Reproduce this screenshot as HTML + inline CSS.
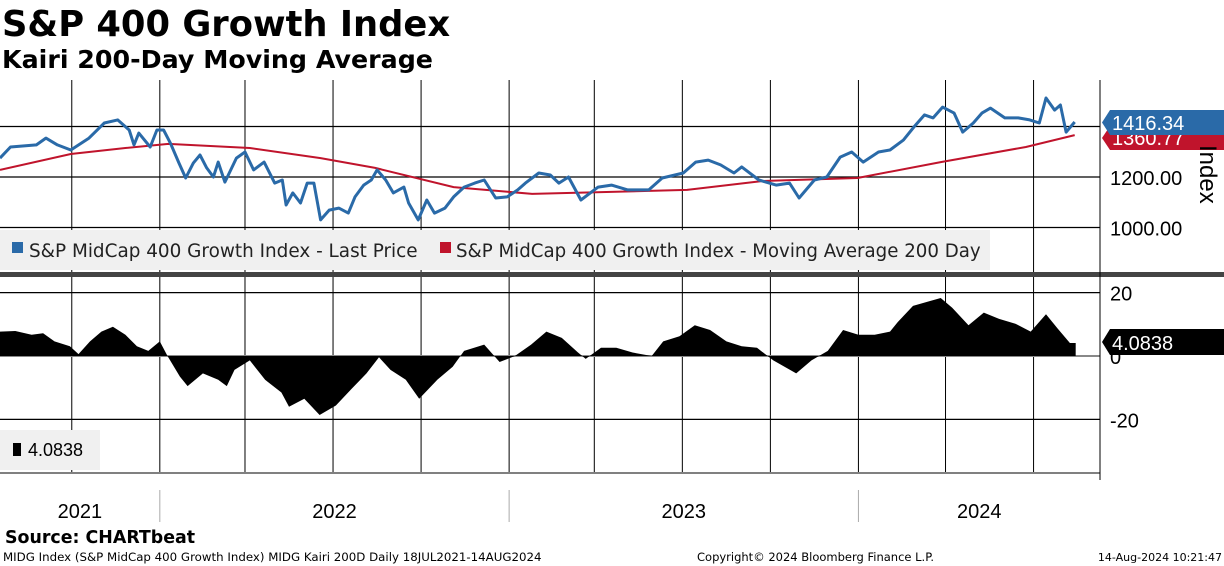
<!DOCTYPE html>
<html><head><meta charset="utf-8"><style>
html,body{margin:0;padding:0;background:#fff;width:1224px;height:566px;overflow:hidden}
svg{display:block}
</style></head><body>
<svg id="c" width="1224" height="566" xmlns="http://www.w3.org/2000/svg">
<text x="2" y="36" font-family="DejaVu Sans, sans-serif" font-weight="bold" font-size="35.3">S&amp;P 400 Growth Index</text>
<text x="2" y="68" font-family="DejaVu Sans, sans-serif" font-weight="bold" font-size="25.3">Kairi 200-Day Moving Average</text>
<g id="grid"></g>
<rect x="0" y="230" width="990" height="40" fill="#f0f0f0"/>
<rect x="12" y="242" width="11" height="11" fill="#2a6aa8"/>
<text x="29" y="257" font-family="DejaVu Sans, sans-serif" font-size="18.4" fill="#222">S&amp;P MidCap 400 Growth Index - Last Price</text>
<rect x="440" y="242" width="11" height="11" fill="#c0142c"/>
<text x="456" y="257" font-family="DejaVu Sans, sans-serif" font-size="18.2" fill="#222">S&amp;P MidCap 400 Growth Index - Moving Average 200 Day</text>
<rect x="0" y="272" width="1224" height="5" fill="#444"/>
<rect x="0" y="430" width="100" height="40" fill="#f0f0f0"/>
<rect x="13" y="443" width="8" height="13" fill="#000"/>
<text x="28" y="456" font-family="Liberation Sans, sans-serif" font-size="18">4.0838</text>
<g id="marks"></g>
<g id="axes"></g>
<text x="5" y="543" font-family="DejaVu Sans, sans-serif" font-weight="bold" font-size="17.4">Source: CHARTbeat</text>
<text x="3" y="561" font-family="DejaVu Sans, sans-serif" font-size="11.8">MIDG Index (S&amp;P MidCap 400 Growth Index) MIDG Kairi 200D  Daily 18JUL2021-14AUG2024</text>
<text x="697" y="561" font-family="DejaVu Sans, sans-serif" font-size="11.5">Copyright© 2024 Bloomberg Finance L.P.</text>
<text x="1222" y="561" text-anchor="end" font-family="DejaVu Sans, sans-serif" font-size="11">14-Aug-2024 10:21:47</text>
</svg>
<script>
// days since 2021-07-18
const priceDays=[0,11,38,48,60,74,93,109,123,135,140,145,157,164,171,178,187,194,202,209,216,223,228,235,247,256,265,276,287,295,299,306,314,321,328,335,344,354,364,371,380,388,394,403,411,422,427,437,446,454,465,474,485,496,506,518,530,541,549,563,575,584,594,607,625,639,656,678,692,714,727,740,753,767,775,793,811,825,835,851,864,878,890,902,918,930,944,955,966,975,985,997,1006,1017,1026,1035,1050,1064,1076,1086,1093,1102,1108,1114,1123];
const priceValues=[1275,1319,1327,1354,1327,1307,1354,1414,1426,1386,1327,1374,1319,1386,1386,1335,1255,1196,1255,1287,1236,1200,1259,1180,1275,1299,1228,1259,1176,1188,1089,1137,1097,1176,1176,1030,1069,1077,1057,1121,1168,1188,1228,1188,1137,1160,1097,1030,1109,1057,1077,1121,1160,1176,1188,1117,1121,1149,1176,1216,1208,1176,1200,1109,1160,1168,1149,1149,1196,1216,1259,1267,1248,1216,1240,1188,1168,1176,1117,1188,1200,1279,1299,1259,1299,1307,1346,1398,1446,1434,1477,1453,1378,1414,1453,1473,1434,1434,1426,1414,1513,1465,1485,1378,1418];
const maDays=[0,74,131,176,261,335,392,474,556,718,797,896,983,1072,1123];
const maValues=[1228,1291,1315,1331,1315,1275,1236,1160,1133,1149,1184,1196,1259,1319,1366];
const kairiDays=[0,16,33,45,57,73,82,94,106,118,131,143,155,167,175,188,196,212,228,237,245,261,277,294,302,318,334,351,367,383,396,408,424,438,457,473,485,506,522,538,555,571,587,604,612,628,644,661,681,693,710,726,742,759,775,791,808,832,848,865,881,897,914,930,938,954,971,983,995,1012,1028,1044,1061,1077,1093,1105,1118,1124];
const kairiValues=[7.7,7.9,6.7,7.2,4.6,3.1,0.6,4.6,7.7,9.2,6.7,3.1,1.6,4.6,0,-6.5,-9.5,-5.5,-7.5,-9.5,-4.4,-1.4,-7.5,-11.5,-16,-13.5,-18.6,-15.6,-10.5,-5.5,-0.4,-4.4,-7.5,-13.5,-7.5,-3.4,1.6,3.6,-1.9,0,3.6,7.7,5.7,1.1,-0.9,2.6,2.6,1.1,0,4.6,6.2,9.7,8.2,4.6,3.1,2.6,-1.4,-5.5,-1.4,1.6,8.2,6.7,6.7,7.7,10.7,15.8,17.3,18.3,15.2,9.7,13.7,11.7,10.2,7.7,13.2,8.7,4.1,4.1];
const quarterDays=[75,167,256,348,440,532,621,713,805,897,988,1080];
const yearSepDays=[167,532,897];
const yearLabels=["2021","2022","2023","2024"];
const priceTicks=[1000,1200,1400];
const kairiTicks=[-20,0,20];
const lastPrice="1416.34", lastMA="1360.77", lastKairi="4.0838";

const NS="http://www.w3.org/2000/svg";
const X=d=>d*0.957;
const YP=p=>177-(p-1200)*0.2525;
const YK=k=>356-k*3.17;
function mk(tag,attrs,parent){const e=document.createElementNS(NS,tag);for(const k in attrs)e.setAttribute(k,attrs[k]);parent.appendChild(e);return e;}
const grid=document.getElementById('grid'),marks=document.getElementById('marks'),axes=document.getElementById('axes');

quarterDays.forEach(d=>{
  const l=mk('line',{x1:X(d),x2:X(d),y1:80,y2:472,stroke:'#000','stroke-width':1},grid);
  
  
});
priceTicks.forEach(p=>{
  const l=mk('line',{x1:0,x2:1100,y1:YP(p),y2:YP(p),stroke:'#000','stroke-width':1.3},grid);
  
  
});
kairiTicks.forEach(k=>{
  const l=mk('line',{x1:0,x2:1100,y1:YK(k),y2:YK(k),stroke:k===0?'#888':'#000','stroke-width':k===0?2:1.3},grid);
  
  
});

let kp='M'+X(kairiDays[0])+','+YK(0);
kairiDays.forEach((d,i)=>{kp+=' L'+X(d).toFixed(1)+','+YK(kairiValues[i]).toFixed(1);});
kp+=' L'+X(kairiDays[kairiDays.length-1])+','+YK(0)+' Z';
const ka=mk('path',{d:kp,fill:'#000'},marks);



const ma=mk('polyline',{points:maDays.map((d,i)=>X(d).toFixed(1)+','+YP(maValues[i]).toFixed(1)).join(' '),fill:'none',stroke:'#c0142c','stroke-width':2},marks);


const pl=mk('polyline',{points:priceDays.map((d,i)=>X(d).toFixed(1)+','+YP(priceValues[i]).toFixed(1)).join(' '),fill:'none',stroke:'#2a6aa8','stroke-width':3,'stroke-linejoin':'round'},marks);



const ax=mk('line',{x1:1100,x2:1100,y1:80,y2:480,stroke:'#000','stroke-width':1},axes);


const bx=mk('line',{x1:0,x2:1100,y1:473,y2:473,stroke:'#000','stroke-width':1},axes);


priceTicks.forEach(p=>{
  const t=mk('text',{x:1110,y:YP(p)+8,'font-family':'Liberation Sans, sans-serif','font-size':20},axes);
  t.textContent=p.toFixed(2);
  
  
});
kairiTicks.forEach(k=>{
  const t=mk('text',{x:1110,y:YK(k)+8,'font-family':'Liberation Sans, sans-serif','font-size':20},axes);
  t.textContent=String(k);
  
  
});
yearSepDays.forEach(d=>{
  const l=mk('line',{x1:X(d),x2:X(d),y1:490,y2:522,stroke:'#aaa','stroke-width':1},axes);
  
  
});
const bounds=[0].concat(yearSepDays).concat([1150]);
yearLabels.forEach((y,i)=>{
  const cx=(X(bounds[i])+Math.min(X(bounds[i+1]),1100))/2;
  const t=mk('text',{x:cx,y:518,'text-anchor':'middle','font-family':'Liberation Sans, sans-serif','font-size':20},axes);
  t.textContent=y;
  
  
});
function callout(y,h,fill,txt,name){
  const g=mk('g',{},axes);
  
  
  mk('path',{d:`M1102,${y+h/2} L1110,${y} L1224,${y} L1224,${y+h} L1110,${y+h} Z`,fill:fill},g);
  const t=mk('text',{x:1112,y:y+h-5,'font-family':'Liberation Sans, sans-serif','font-size':20,fill:'#fff'},g);
  t.textContent=txt;
}
callout(126,24,'#c0142c',lastMA,'ma200-value-callout');
callout(110,25,'#2a6aa8',lastPrice,'last-price-callout');
callout(329,26,'#000',lastKairi,'kairi-value-callout');
const idx=mk('text',{x:0,y:0,'font-family':'Liberation Sans, sans-serif','font-size':24,transform:'translate(1200,145) rotate(90)'},axes);
idx.textContent='Index';


</script>
</body></html>
